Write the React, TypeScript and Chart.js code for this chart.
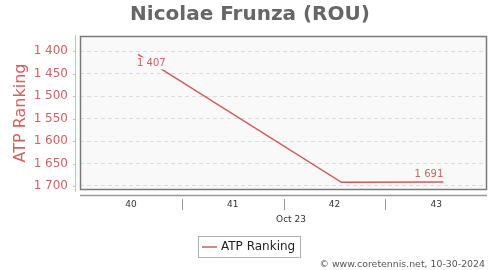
import React, { useEffect, useRef } from "react";
import { Chart, registerables } from "chart.js";

Chart.register(...registerables);

const TITLE = "Nicolae Frunza (ROU)";
const SERIES_NAME = "ATP Ranking";
const WEEKS = [40, 41, 42, 43];
const RANKS: (number | null)[] = [1407, null, 1692, 1691];
const Y_TICKS = [1400, 1450, 1500, 1550, 1600, 1650, 1700];
const MONTH_LABEL = "Oct 23";
const CREDIT = "© www.coretennis.net, 10-30-2024";
const LABELLED_POINTS = [0, 3];

const FONT = "'DejaVu Sans', Verdana, sans-serif";
const RED = "#cc5c5c";
const RED_TEXT = "#cc6464";
const PLOT_BG = "#f9f9f9";

const fmt = (v: number) => String(v).replace(/\B(?=(\d{3})+(?!\d))/g, " ");

const decorPlugin = {
  id: "decor",
  beforeDraw(chart: any) {
    const { ctx, chartArea: a } = chart;
    ctx.save();
    ctx.fillStyle = "#ffffff";
    ctx.fillRect(0, 0, chart.width, chart.height);
    ctx.fillStyle = PLOT_BG;
    ctx.fillRect(a.left, a.top, a.right - a.left, a.bottom - a.top);
    ctx.restore();
  },
  beforeDatasetsDraw(chart: any) {
    const { ctx, chartArea: a } = chart;
    ctx.save();
    ctx.strokeStyle = "#7a7a7a";
    ctx.lineWidth = 1.5;
    ctx.strokeRect(a.left + 0.5, a.top + 0.5, a.right - a.left - 1, a.bottom - a.top - 1);
    ctx.restore();
  },
  afterDatasetsDraw(chart: any) {
    const { ctx } = chart;
    const meta = chart.getDatasetMeta(0);
    ctx.save();
    ctx.font = `10px ${FONT}`;
    ctx.textBaseline = "middle";
    LABELLED_POINTS.forEach((i, k) => {
      const el = meta.data[i];
      const v = RANKS[i];
      if (!el || v == null) return;
      const text = fmt(v);
      const w = ctx.measureText(text).width;
      let tx: number, ty: number, left: number;
      if (k === 0) {
        ctx.textAlign = "left";
        tx = el.x - 1;
        ty = el.y + 9;
        left = tx;
      } else {
        ctx.textAlign = "right";
        tx = el.x;
        ty = el.y - 8;
        left = tx - w;
      }
      ctx.fillStyle = PLOT_BG;
      ctx.fillRect(left - 2, ty - 6, w + 4, 12);
      ctx.fillStyle = RED_TEXT;
      ctx.fillText(text, tx, ty);
    });
    ctx.restore();
  },
  afterDraw(chart: any) {
    const { ctx, chartArea: a } = chart;
    const xs = chart.scales.x;
    const ys = chart.scales.y;
    ctx.save();

    // Title
    ctx.fillStyle = "#666666";
    ctx.font = `bold 20px ${FONT}`;
    ctx.textAlign = "center";
    ctx.textBaseline = "alphabetic";
    ctx.fillText(TITLE, 250, 20);

    // Y axis title
    ctx.save();
    ctx.translate(21, (a.top + a.bottom) / 2);
    ctx.rotate(-Math.PI / 2);
    ctx.fillStyle = RED_TEXT;
    ctx.font = `16px ${FONT}`;
    ctx.textAlign = "center";
    ctx.textBaseline = "middle";
    ctx.fillText(SERIES_NAME, 0, 0);
    ctx.restore();

    // Y axis line + ticks
    ctx.strokeStyle = "#e2b4b4";
    ctx.lineWidth = 1;
    ctx.beginPath();
    ctx.moveTo(a.left - 4.5, a.top - 1);
    ctx.lineTo(a.left - 4.5, a.bottom + 2);
    Y_TICKS.forEach((v) => {
      const y = Math.round(ys.getPixelForValue(v)) + 0.5;
      ctx.moveTo(a.left - 7, y);
      ctx.lineTo(a.left - 4, y);
    });
    ctx.stroke();

    // X axis line
    ctx.strokeStyle = "#999999";
    ctx.lineWidth = 1.5;
    ctx.beginPath();
    ctx.moveTo(a.left, a.bottom + 5.5);
    ctx.lineTo(a.right, a.bottom + 5.5);
    ctx.stroke();

    // X category boundaries
    const step = xs.getPixelForValue(WEEKS[1]) - xs.getPixelForValue(WEEKS[0]);
    const shift = 7;
    ctx.lineWidth = 1;
    ctx.beginPath();
    for (let i = 0; i < WEEKS.length - 1; i++) {
      const x = Math.round(xs.getPixelForValue(WEEKS[i]) - shift + step / 2) + 0.5;
      ctx.moveTo(x, a.bottom + 9);
      ctx.lineTo(x, a.bottom + 20);
    }
    ctx.stroke();

    // X labels
    ctx.fillStyle = "#333333";
    ctx.font = `9px ${FONT}`;
    ctx.textAlign = "center";
    ctx.textBaseline = "middle";
    WEEKS.forEach((w) => {
      ctx.fillText(String(w), xs.getPixelForValue(w) - shift, a.bottom + 14.5);
    });
    ctx.fillText(MONTH_LABEL, 291, a.bottom + 30);

    // Legend
    ctx.strokeStyle = "#b0b0b0";
    ctx.lineWidth = 1;
    ctx.strokeRect(198.5, 236.5, 102, 21);
    ctx.strokeStyle = RED;
    ctx.lineWidth = 1.5;
    ctx.beginPath();
    ctx.moveTo(202, 247);
    ctx.lineTo(217, 247);
    ctx.stroke();
    ctx.fillStyle = "#222222";
    ctx.font = `12px ${FONT}`;
    ctx.textAlign = "left";
    ctx.textBaseline = "middle";
    ctx.fillText(SERIES_NAME, 221, 247);

    // Credit
    ctx.fillStyle = "#555555";
    ctx.font = `9.4px ${FONT}`;
    ctx.textAlign = "right";
    ctx.fillText(CREDIT, 485, 265);

    ctx.restore();
  },
};

export default function App() {
  const ref = useRef<HTMLCanvasElement>(null);
  useEffect(() => {
    if (!ref.current) return;
    const chart = new Chart(ref.current, {
      type: "line",
      data: {
        datasets: [
          {
            label: SERIES_NAME,
            data: WEEKS.map((w, i) => ({ x: w, y: RANKS[i] })) as any,
            borderColor: RED,
            borderWidth: 1.5,
            pointRadius: 0,
            spanGaps: true,
            tension: 0,
          },
        ],
      },
      options: {
        responsive: false,
        animation: false,
        layout: { padding: { top: 36, right: 13, bottom: 80, left: 0 } },
        plugins: { legend: { display: false }, title: { display: false }, tooltip: { enabled: false } },
        scales: {
          x: { type: "linear", display: false, min: 39.43, max: 43.43 },
          y: {
            type: "linear",
            reverse: true,
            min: 1366,
            max: 1709,
            afterBuildTicks: (s: any) => {
              s.ticks = Y_TICKS.map((v) => ({ value: v }));
            },
            afterFit: (s: any) => {
              s.width = 80;
            },
            grid: { color: "#dcdcdc", lineWidth: 1, drawTicks: false },
            border: { display: false, dash: [4, 3] },
            ticks: {
              color: RED_TEXT,
              font: { family: FONT, size: 12 },
              padding: 12,
              callback: (v: any) => fmt(Number(v)),
            },
          },
        },
      },
      plugins: [decorPlugin],
    });
    return () => chart.destroy();
  }, []);
  return (
    <div style={{ position: "fixed", left: 0, top: 0, width: 500, height: 270 }}>
      <canvas ref={ref} width={500} height={270} style={{ width: 500, height: 270 }} />
    </div>
  );
}
